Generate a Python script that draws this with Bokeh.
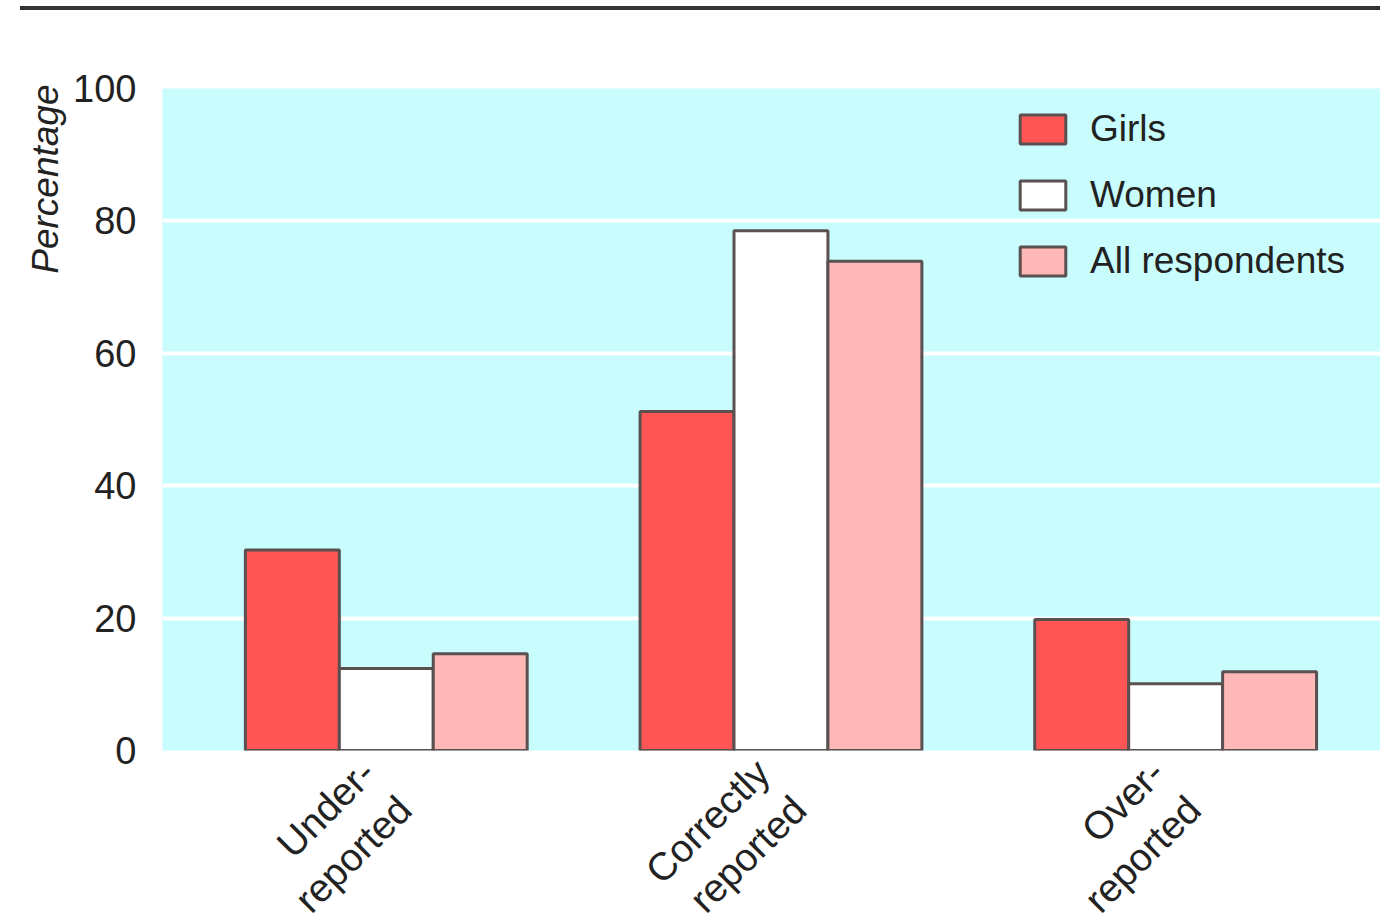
import math
from bokeh.plotting import figure
from bokeh.models import Range1d, Div, Legend, LegendItem, FixedTicker, ColumnDataSource, Title
from bokeh.layouts import column
from bokeh.embed import file_html
from bokeh.resources import INLINE

categories = ["Under-\nreported", "Correctly\nreported", "Over-\nreported"]
series = ["Girls", "Women", "All respondents"]
girls = [30.3, 51.2, 19.8]
women = [12.4, 78.5, 10.1]
all_resp = [14.6, 73.9, 11.9]
y_ticks = [0, 20, 40, 60, 80, 100]

fills = ["#ff5555", "#ffffff", "#ffb8b8"]
FONT = "Liberation Sans"

p = figure(frame_width=1218, frame_height=662, output_backend="svg", toolbar_location=None,
           x_range=Range1d(0.433, 3.519), y_range=Range1d(0, 100),
           min_border_left=162, min_border_right=0, min_border_top=78, min_border_bottom=140)
p.background_fill_color = "#c8fcfd"
p.border_fill_color = "white"
p.outline_line_color = None

xs = [1, 2, 3]
w = 0.238
renderers = []
for i, (name, vals) in enumerate(zip(series, [girls, women, all_resp])):
    src = ColumnDataSource(dict(x=[x + (i - 1) * w for x in xs], top=vals))
    r = p.vbar(x="x", top="top", bottom=0, width=w, source=src,
               fill_color=fills[i], line_color="#5a5050", line_width=3)
    renderers.append(r)

p.xgrid.grid_line_color = None
p.ygrid.grid_line_color = "white"
p.ygrid.grid_line_width = 4
p.ygrid.ticker = FixedTicker(ticks=y_ticks)
p.ygrid.level = "underlay"

p.yaxis.ticker = FixedTicker(ticks=y_ticks)
p.yaxis.axis_line_color = None
p.yaxis.major_tick_line_color = None
p.yaxis.minor_tick_line_color = None
p.yaxis.major_label_standoff = 20
p.yaxis.major_label_text_font = FONT
p.yaxis.major_label_text_font_size = "38px"
p.yaxis.major_label_text_color = "#222222"

p.xaxis.ticker = FixedTicker(ticks=xs)
p.xaxis.major_label_overrides = {x: c for x, c in zip(xs, categories)}
p.xaxis.axis_line_color = None
p.xaxis.major_tick_line_color = None
p.xaxis.minor_tick_line_color = None
p.xaxis.major_label_orientation = math.pi / 4
p.xaxis.major_label_standoff = 28
p.xaxis.major_label_text_font = FONT
p.xaxis.major_label_text_font_size = "39px"
p.xaxis.major_label_text_color = "#222222"

ytitle = Title(text="Percentage", align="right", text_font=FONT, text_font_size="37px",
               text_font_style="italic", text_color="#222222", offset=-4)
p.add_layout(ytitle, "left")

legend = Legend(items=[LegendItem(label=s, renderers=[r]) for s, r in zip(series, renderers)],
                location=(852, 464), padding=0, spacing=16, glyph_width=57, glyph_height=36,
                label_height=50, label_standoff=19, label_text_font=FONT,
                label_text_font_size="37px", label_text_color="#222222",
                background_fill_alpha=0, border_line_color=None)
p.add_layout(legend)

div = Div(width=1360, height=10, margin=(0, 0, 0, 20),
          styles={"border-bottom": "4px solid #333333"})

layout = column(div, p, spacing=0)
open("out.html", "w").write(file_html(layout, INLINE))
